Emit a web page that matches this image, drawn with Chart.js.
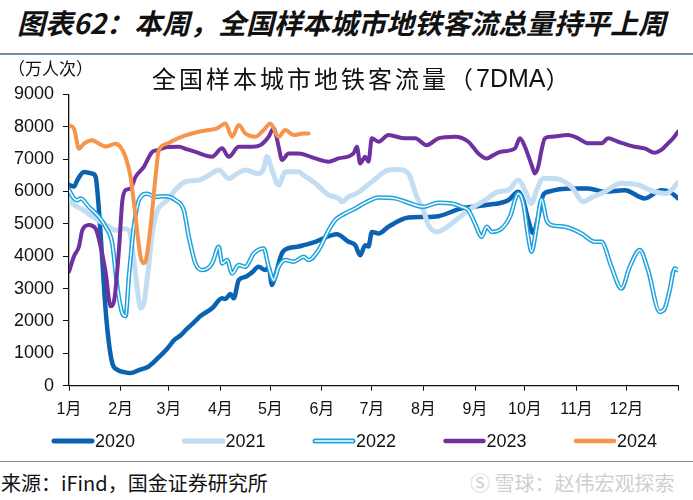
<!DOCTYPE html>
<html>
<head>
<meta charset="utf-8">
<script src="https://cdn.jsdelivr.net/npm/chart.js@4.4.1/dist/chart.umd.min.js"></script>
<style>
html, body { margin: 0; padding: 0; background: #fff; }
#page { position: relative; width: 693px; height: 500px; overflow: hidden; font-family: "Noto Sans CJK SC", sans-serif; }
#head { position: absolute; left: 17px; top: 2px; font-size: 28px; font-weight: bold; font-style: italic; color: #111; line-height: 40px; white-space: nowrap; }
#rule1 { position: absolute; left: 0; top: 53px; width: 693px; height: 2px; background: #6f8ca2; }
#wrap { position: absolute; left: 0; top: 55px; width: 693px; height: 406px; }
#rule2 { position: absolute; left: 0; top: 461px; width: 693px; height: 1px; background: #6f8ca2; }
#src { position: absolute; left: 1px; top: 469px; font-size: 20px; color: #111; line-height: 28px; white-space: nowrap; }
#mark { position: absolute; left: 470px; top: 469px; font-size: 20px; color: #cfcfcf; line-height: 28px; white-space: nowrap; }
</style>
</head>
<body>
<div id="page">
  <div id="head">图表62：本周，全国样本城市地铁客流总量持平上周</div>
  <div id="rule1"></div>
  <div id="wrap"><canvas id="chart" width="693" height="406"></canvas></div>
  <div id="rule2"></div>
  <div id="src">来源：iFind，国金证券研究所</div>
  <div id="mark">Ⓢ 雪球：赵伟宏观探索</div>
</div>
<script>
// x axis: day of year, month start ticks
const monthStarts = [0, 31, 60, 91, 121, 152, 182, 213, 244, 274, 305, 335, 366];
const monthLabels = ['1月', '2月', '3月', '4月', '5月', '6月', '7月', '8月', '9月', '10月', '11月', '12月', ''];

const days2020 = [0, 3, 5, 9, 14, 16, 18, 20, 22, 24, 26, 29, 33, 37, 42, 48, 54, 59, 63, 67, 71, 76, 79, 86, 92, 94, 97, 99, 102, 106, 110, 114, 118, 120, 122, 124, 128, 132, 138, 141, 148, 161, 168, 172, 175, 178, 180, 182, 186, 192, 204, 213, 222, 236, 250, 264, 270, 273, 276, 279, 282, 285, 288, 302, 312, 322, 334, 346, 356, 361, 366];
const values2020 = [6200, 6150, 6350, 6600, 6550, 6450, 5420, 3880, 2340, 1310, 700, 490, 420, 390, 480, 600, 880, 1140, 1400, 1550, 1760, 2000, 2150, 2390, 2700, 2680, 2830, 2700, 3260, 3360, 3500, 3670, 3570, 3650, 3110, 3400, 4090, 4250, 4300, 4340, 4445, 4680, 4445, 4340, 4030, 4340, 4300, 4750, 4700, 4910, 5195, 5210, 5235, 5480, 5575, 5730, 5990, 5730, 5115, 4710, 5215, 5890, 5990, 6090, 6090, 5990, 6040, 5785, 6040, 5990, 5790];

const days2021 = [0, 4, 8, 12, 18, 24, 28, 33, 36, 39, 41, 43, 45, 47, 50, 53, 56, 60, 64, 70, 78, 84, 90, 96, 101, 106, 114, 117, 119, 122, 126, 130, 138, 141, 148, 156, 162, 164, 168, 173, 182, 192, 198, 204, 209, 213, 216, 221, 230, 240, 250, 258, 264, 270, 274, 278, 281, 285, 292, 302, 309, 313, 322, 332, 342, 352, 359, 366];
const values2021 = [5730, 5550, 5450, 5300, 5100, 4910, 4800, 4850, 4800, 3880, 3000, 2400, 2550, 3300, 4700, 5400, 5600, 5780, 6050, 6300, 6350, 6500, 6660, 6400, 6550, 6660, 6550, 6700, 7070, 6660, 6200, 6605, 6605, 6500, 6250, 5890, 5785, 5680, 5835, 5940, 6300, 6660, 6680, 6550, 5835, 5420, 4960, 4750, 5010, 5420, 5730, 5990, 6040, 6350, 6040, 5630, 6040, 6400, 6400, 6140, 5680, 5785, 5990, 6250, 6200, 5990, 5940, 6270];

const days2022 = [0, 3, 5, 7, 12, 18, 22, 26, 29, 32, 34, 36, 39, 42, 47, 52, 58, 64, 69, 72, 76, 80, 86, 90, 92, 95, 98, 102, 106, 111, 117, 120, 123, 126, 130, 135, 141, 144, 150, 156, 160, 166, 172, 178, 186, 196, 204, 213, 222, 230, 236, 240, 244, 248, 251, 254, 260, 265, 270, 273, 276, 278, 281, 284, 287, 290, 298, 308, 316, 320, 326, 332, 337, 343, 348, 355, 358, 361, 364, 366];
const values2022 = [6040, 5780, 5730, 5780, 5520, 5215, 4910, 4390, 3060, 2240, 2150, 3370, 4910, 5730, 5930, 5830, 5850, 5730, 5420, 4600, 3775, 3570, 3775, 4290, 3775, 3880, 3465, 3725, 3670, 4085, 4240, 3670, 3260, 3670, 3880, 3830, 3980, 3880, 4190, 4800, 5115, 5320, 5475, 5650, 5815, 5785, 5650, 5525, 5650, 5630, 5525, 5420, 5010, 4600, 4910, 4750, 4855, 5215, 5935, 5630, 4600, 4135, 4900, 5750, 5115, 4960, 4910, 4700, 4445, 4445, 3670, 3000, 3670, 4190, 3570, 2280, 2380, 2950, 3620, 3570];

const days2023 = [0, 3, 6, 8, 12, 16, 19, 22, 25, 27, 30, 32, 34, 37, 40, 45, 50, 53, 59, 66, 71, 76, 86, 92, 96, 102, 110, 115, 120, 123, 126, 128, 132, 138, 148, 156, 162, 171, 173, 175, 178, 180, 182, 186, 192, 202, 208, 215, 222, 232, 240, 246, 251, 255, 259, 268, 271, 274, 278, 280, 282, 284, 286, 290, 300, 306, 312, 320, 324, 330, 340, 346, 352, 356, 360, 363, 366];
const values2023 = [3520, 4000, 4300, 4800, 4960, 4850, 4300, 3500, 2450, 2600, 4190, 5680, 6040, 6090, 6450, 6760, 7220, 7270, 7370, 7380, 7300, 7220, 7070, 7330, 7070, 7380, 7380, 7430, 7690, 7950, 7380, 6970, 7170, 7175, 7020, 6920, 7020, 7175, 7380, 6865, 7070, 6920, 7640, 7535, 7740, 7640, 7640, 7430, 7640, 7690, 7535, 7175, 7020, 7120, 7220, 7330, 7640, 7380, 6815, 6555, 6760, 7280, 7640, 7690, 7740, 7640, 7485, 7485, 7640, 7535, 7380, 7330, 7195, 7280, 7485, 7640, 7845];

const days2024 = [0, 3, 6, 9, 14, 18, 22, 28, 31, 34, 37, 40, 43, 45, 46, 49, 52, 54, 59, 63, 70, 78, 84, 89, 94, 98, 102, 106, 112, 117, 121, 126, 130, 135, 141, 144];
const values2024 = [8040, 7940, 7320, 7475, 7580, 7475, 7390, 7475, 7370, 7060, 6450, 5215, 3985, 3780, 3830, 4910, 6450, 7270, 7475, 7580, 7730, 7845, 7895, 7950, 8100, 7690, 8050, 7790, 7690, 7895, 8100, 7690, 7895, 7740, 7790, 7790];

const toPoints = (days, values) => days.map((d, i) => ({ x: d, y: values[i] }));

const tickFont = { family: '"Liberation Sans", "Noto Sans CJK SC", sans-serif', size: 18 };

// unit label, inner title and line legend drawn on the canvas
const extraText = {
  id: 'extraText',
  afterDraw(chart) {
    const ctx = chart.ctx;
    ctx.save();
    ctx.fillStyle = '#111';
    ctx.textBaseline = 'middle';
    ctx.font = '17px "Noto Sans CJK SC"';
    ctx.fillText('（万人次）', 8, 14);
    ctx.font = '24px "Noto Sans CJK SC"';
    ctx.letterSpacing = '3px';
    const cn = '全国样本城市地铁客流量（';
    ctx.fillText(cn, 152, 24);
    let x = 152 + ctx.measureText(cn).width;
    ctx.letterSpacing = '0px';
    ctx.font = '25px "Liberation Sans"';
    ctx.fillText('7DMA', x, 25);
    x += ctx.measureText('7DMA').width;
    ctx.font = '24px "Noto Sans CJK SC"';
    ctx.fillText('）', x, 24);

    ctx.font = '18px "Liberation Sans"';
    ctx.lineCap = 'round';
    chart.data.datasets.filter(ds => !ds.inner).forEach((ds, i) => {
      const x0 = 54 + i * 130.5;
      const y = 386;
      ctx.strokeStyle = ds.borderColor;
      ctx.lineWidth = ds.borderWidth + 0.5;
      ctx.beginPath(); ctx.moveTo(x0, y); ctx.lineTo(x0 + 38, y); ctx.stroke();
      if (ds.label === '2022') {
        ctx.strokeStyle = '#fff';
        ctx.lineWidth = 1.6;
        ctx.beginPath(); ctx.moveTo(x0, y); ctx.lineTo(x0 + 38, y); ctx.stroke();
      }
      ctx.fillStyle = '#111';
      ctx.fillText(ds.label, x0 + 41, y + 1);
    });
    ctx.restore();
  }
};

const lineBase = { pointRadius: 0, cubicInterpolationMode: 'monotone', fill: false, borderJoinStyle: 'round', borderCapStyle: 'round' };

new Chart(document.getElementById('chart'), {
  type: 'line',
  data: {
    datasets: [
      { ...lineBase, label: '2020', data: toPoints(days2020, values2020), borderColor: '#0b62b0', borderWidth: 4.5, order: 6 },
      { ...lineBase, label: '2021', data: toPoints(days2021, values2021), borderColor: '#c3def3', borderWidth: 5, order: 5 },
      { ...lineBase, label: '2022', data: toPoints(days2022, values2022), borderColor: '#1ea3dc', borderWidth: 4.5, order: 4 },
      { ...lineBase, label: '2022', inner: true, data: toPoints(days2022, values2022), borderColor: '#ffffff', borderWidth: 1.5, order: 3 },
      { ...lineBase, label: '2023', data: toPoints(days2023, values2023), borderColor: '#7031a0', borderWidth: 4, order: 2 },
      { ...lineBase, label: '2024', data: toPoints(days2024, values2024), borderColor: '#f5944a', borderWidth: 4, order: 1 }
    ]
  },
  options: {
    responsive: false,
    animation: false,
    layout: { padding: { top: 39.3, right: 15, bottom: 41.3, left: 0 } },
    plugins: {
      legend: { display: false },
      tooltip: { enabled: false }
    },
    scales: {
      x: {
        type: 'linear',
        min: 0,
        max: 366,
        afterBuildTicks: scale => { scale.ticks = monthStarts.map(v => ({ value: v })); },
        afterFit: scale => { scale.height = 34; },
        ticks: {
          autoSkip: false,
          maxRotation: 0,
          padding: 9,
          color: '#111',
          font: { ...tickFont, size: 16 },
          callback: value => monthLabels[monthStarts.indexOf(value)] || ''
        },
        grid: { display: true, drawOnChartArea: false, drawTicks: true, tickLength: 5, color: '#111' },
        border: { display: true, color: '#111', width: 1.3 }
      },
      y: {
        min: 0,
        max: 9000,
        afterFit: scale => { scale.width = 69; },
        ticks: { stepSize: 1000, padding: 9, color: '#111', font: tickFont, callback: v => String(v) },
        grid: { display: true, drawOnChartArea: false, drawTicks: true, tickLength: 6, color: '#111' },
        border: { display: true, color: '#111', width: 1.3 }
      }
    }
  },
  plugins: [extraText]
});
</script>
</body>
</html>
